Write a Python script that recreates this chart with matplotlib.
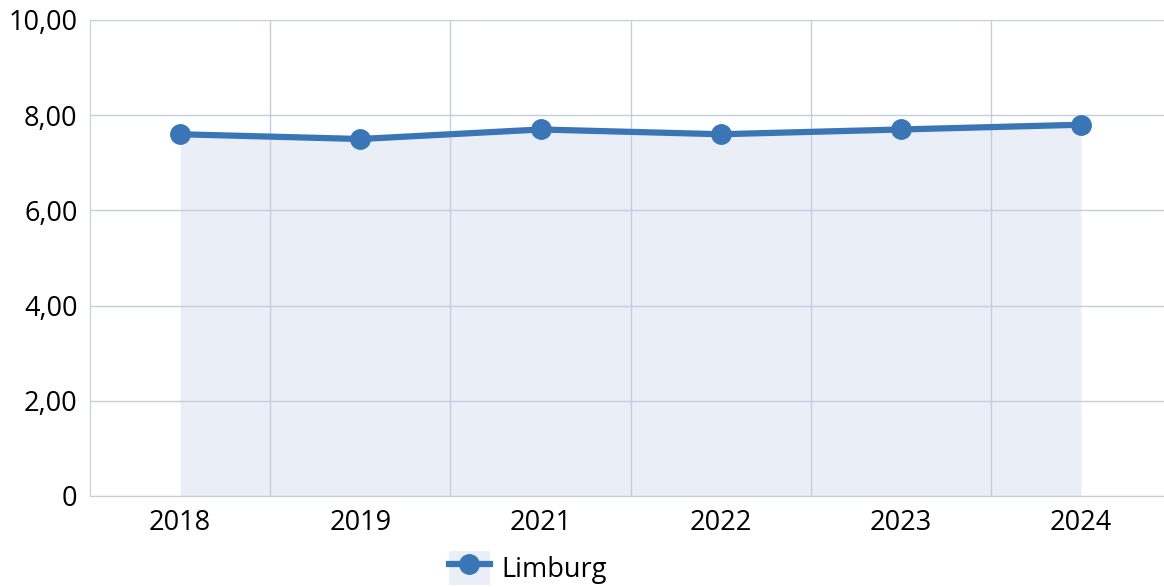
import matplotlib
matplotlib.use("Agg")
import matplotlib.pyplot as plt
from matplotlib.lines import Line2D
from matplotlib.patches import Patch
from matplotlib.ticker import FixedLocator

categories = ["2018", "2019", "2021", "2022", "2023", "2024"]
values = [7.6, 7.5, 7.7, 7.6, 7.7, 7.8]
yticks = [0, 2, 4, 6, 8, 10]
ytick_labels = ["0", "2,00", "4,00", "6,00", "8,00", "10,00"]
series_name = "Limburg"

line_color = "#3a76b6"
fill_color = "#eaeff7"
grid_color = "#c2cedb"

plt.rcParams['font.family'] = ['Open Sans', 'DejaVu Sans']

fig = plt.figure(figsize=(11.64, 5.87), dpi=100)
ax = fig.add_axes([90/1164, 1-496/587, 1-90/1164, (496-20)/587])

x = list(range(len(categories)))
ax.fill_between(x, 0, values, color=fill_color, zorder=1, linewidth=0)
ax.plot(x, values, color=line_color, linewidth=4.5, marker='o', markersize=14,
        zorder=3, solid_capstyle='round')

ax.set_xlim(-0.5, len(categories) - 1 + 0.46)
ax.set_ylim(0, 10)
ax.set_yticks(yticks)
ax.set_yticklabels(ytick_labels)
ax.set_xticks(x)
ax.set_xticklabels(categories)
ax.xaxis.set_minor_locator(FixedLocator([i + 0.5 for i in range(len(categories) - 1)]))

ax.grid(axis='y', which='major', color=grid_color, linewidth=1, zorder=0)
ax.grid(axis='x', which='minor', color=grid_color, linewidth=1, zorder=2)
ax.set_axisbelow(False)
for s in ['top', 'right']:
    ax.spines[s].set_visible(False)
ax.spines['left'].set_color(grid_color)
ax.spines['bottom'].set_color(grid_color)
ax.tick_params(axis='both', which='both', length=0, labelsize=19.5, colors='black')
ax.tick_params(axis='x', pad=9)
ax.tick_params(axis='y', pad=9)

handle = (Patch(facecolor=fill_color, edgecolor='none'),
          Line2D([], [], color=line_color, linewidth=4.5, marker='o', markersize=14))
fig.legend([handle], [series_name], loc='center', bbox_to_anchor=(528/1164, 1-568/587),
           frameon=False, fontsize=19.5, handlelength=1.5, handleheight=1.5,
           handletextpad=0.45)

fig.savefig("out.png", dpi=100)
